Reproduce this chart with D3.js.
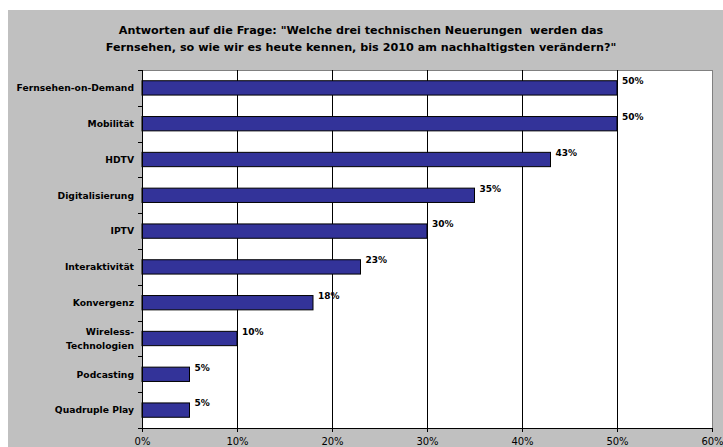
<!DOCTYPE html>
<html>
<head>
<meta charset="utf-8">
<script src="https://cdn.jsdelivr.net/npm/d3@7"></script>
<style>
  html, body { margin: 0; padding: 0; background: #ffffff; }
  svg { display: block; }
  text { font-family: "DejaVu Sans", Verdana, sans-serif; }
</style>
</head>
<body>
<svg id="chart" width="723" height="447"></svg>
<script>
// Survey answers: share of respondents per technology
const categories = [
  "Fernsehen-on-Demand",
  "Mobilität",
  "HDTV",
  "Digitalisierung",
  "IPTV",
  "Interaktivität",
  "Konvergenz",
  "Wireless-\nTechnologien",
  "Podcasting",
  "Quadruple Play"
];
const values = [50, 50, 43, 35, 30, 23, 18, 10, 5, 5];
const xTicks = [0, 10, 20, 30, 40, 50, 60];
const titleLines = [
  "Antworten auf die Frage: \"Welche drei technischen Neuerungen  werden das",
  "Fernsehen, so wie wir es heute kennen, bis 2010 am nachhaltigsten verändern?\""
];

const W = 723, H = 447;
const plot = { left: 142, right: 712, top: 70, bottom: 428 };

const svg = d3.select("#chart");

// chart area background
svg.append("rect")
  .attr("x", 8).attr("y", 10)
  .attr("width", W - 8).attr("height", H - 10)
  .attr("fill", "#c0c0c0");

// title
svg.append("g").selectAll("text")
  .data(titleLines)
  .join("text")
  .attr("x", 361)
  .attr("y", (d, i) => 34 + i * 17)
  .attr("text-anchor", "middle")
  .attr("font-size", "11.2px")
  .attr("font-weight", "bold")
  .attr("fill", "#000")
  .style("white-space", "pre")
  .text(d => d);

const x = d3.scaleLinear().domain([0, 60]).range([plot.left, plot.right]);
const y = d3.scaleBand().domain(categories)
  .range([plot.top, plot.bottom])
  .paddingInner(0.6).paddingOuter(0.3);

// plot area
svg.append("rect")
  .attr("x", plot.left).attr("y", plot.top)
  .attr("width", plot.right - plot.left).attr("height", plot.bottom - plot.top)
  .attr("fill", "#ffffff")
  .attr("stroke", "#808080").attr("stroke-width", 1)
  .attr("shape-rendering", "crispEdges");

// vertical gridlines
svg.append("g").selectAll("line")
  .data(xTicks.filter(t => t > 0 && t < 60))
  .join("line")
  .attr("x1", d => Math.round(x(d)) + 0.5).attr("x2", d => Math.round(x(d)) + 0.5)
  .attr("y1", plot.top).attr("y2", plot.bottom)
  .attr("stroke", "#000").attr("stroke-width", 1);

// bars
svg.append("g").selectAll("rect")
  .data(values)
  .join("rect")
  .attr("x", x(0))
  .attr("y", (d, i) => y(categories[i]))
  .attr("width", d => x(d) - x(0))
  .attr("height", y.bandwidth())
  .attr("fill", "#333399")
  .attr("stroke", "#000").attr("stroke-width", 1);

// value labels
svg.append("g").selectAll("text")
  .data(values)
  .join("text")
  .attr("x", d => x(d) + 5)
  .attr("y", (d, i) => y(categories[i]) + 3.5)
  .attr("font-size", "9px")
  .attr("font-weight", "bold")
  .attr("fill", "#000")
  .text(d => d + "%");

// x axis
const xAxis = d3.axisBottom(x)
  .tickValues(xTicks)
  .tickFormat(d => d + "%")
  .tickSize(4)
  .tickPadding(6);
const gx = svg.append("g")
  .attr("transform", `translate(0,${plot.bottom})`)
  .call(xAxis);
gx.select(".domain").attr("stroke", "#000");
gx.selectAll(".tick line").attr("stroke", "#000");
gx.selectAll(".tick text")
  .attr("font-family", "DejaVu Sans, Verdana, sans-serif")
  .attr("font-size", "10px")
  .attr("fill", "#000");

// y axis: ticks on category boundaries
const band = (plot.bottom - plot.top) / categories.length;
const gy = svg.append("g");
gy.append("line")
  .attr("x1", plot.left + 0.5).attr("x2", plot.left + 0.5)
  .attr("y1", plot.top).attr("y2", plot.bottom + 4)
  .attr("stroke", "#000");
gy.selectAll("line.tick")
  .data(d3.range(categories.length + 1))
  .join("line")
  .attr("class", "tick")
  .attr("x1", plot.left - 4).attr("x2", plot.left)
  .attr("y1", i => Math.round(plot.top + i * band) + 0.5)
  .attr("y2", i => Math.round(plot.top + i * band) + 0.5)
  .attr("stroke", "#000");

// category labels
const labels = svg.append("g").selectAll("text")
  .data(categories)
  .join("text")
  .attr("x", plot.left - 8)
  .attr("y", d => y(d) + y.bandwidth() / 2)
  .attr("text-anchor", "end")
  .attr("font-size", "9.2px")
  .attr("font-weight", "bold")
  .attr("fill", "#000");
labels.each(function(d) {
  const lines = d.split("\n");
  const t = d3.select(this);
  lines.forEach((ln, k) => {
    t.append("tspan")
      .attr("x", plot.left - 8)
      .attr("dy", k === 0 ? (0.35 - (lines.length - 1) * 0.75) + "em" : "1.5em")
      .text(ln);
  });
});
</script>
</body>
</html>
